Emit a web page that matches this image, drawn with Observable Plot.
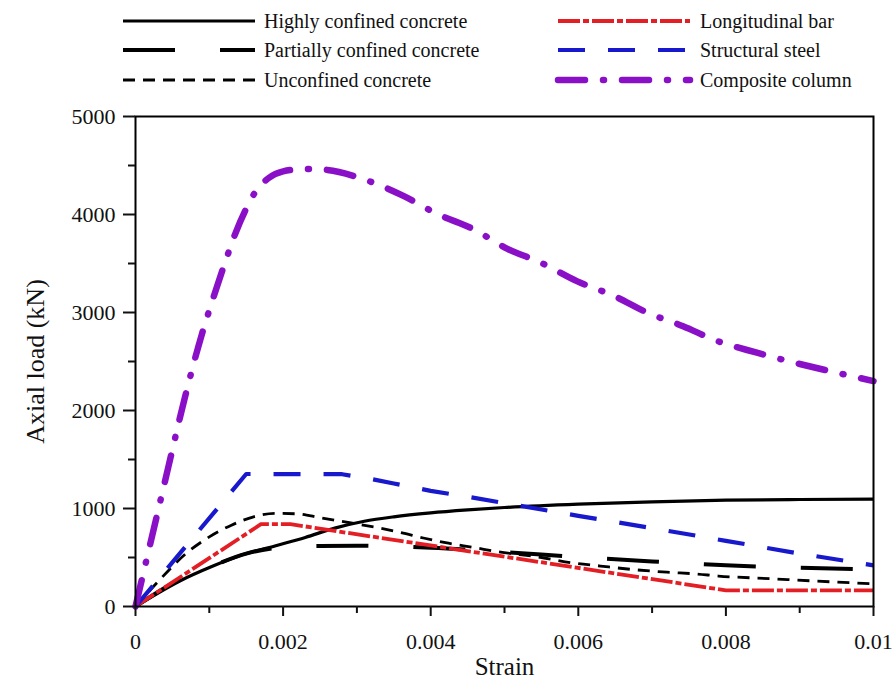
<!DOCTYPE html>
<html>
<head>
<meta charset="utf-8">
<script src="https://cdn.jsdelivr.net/npm/d3@7"></script>
<script src="https://cdn.jsdelivr.net/npm/@observablehq/plot@0.6"></script>
<style>
  html, body { margin: 0; padding: 0; background: #fff; }
  #legend svg, #chart svg { display: block; }
</style>
</head>
<body>
<div id="legend"></div>
<div id="chart"></div>
<script>
// ---------- tick labels ----------
const xTicks = [0, 0.002, 0.004, 0.006, 0.008, 0.01];
const xTickLabels = ["0", "0.002", "0.004", "0.006", "0.008", "0.01"];
const xMinorTicks = [0.001, 0.003, 0.005, 0.007, 0.009];
const yTicks = [0, 1000, 2000, 3000, 4000, 5000];
const yTickLabels = ["0", "1000", "2000", "3000", "4000", "5000"];
const yMinorTicks = [500, 1500, 2500, 3500, 4500];
const xTitle = "Strain";
const yTitle = "Axial load (kN)";

// ---------- series ----------
const seriesNames = ["Highly confined concrete", "Partially confined concrete", "Unconfined concrete",
                     "Longitudinal bar", "Structural steel", "Composite column"];

const highlyStrain = [0, 0.0003, 0.0006, 0.00105, 0.0014, 0.0019, 0.0023, 0.0027, 0.0031, 0.0035, 0.004, 0.0045, 0.005, 0.006, 0.007, 0.008, 0.009, 0.01];
const highlyLoad   = [0, 135, 260, 413, 515, 620, 705, 800, 870, 915, 955, 985, 1010, 1045, 1068, 1085, 1092, 1095];

const partialStrain = [0, 0.0005, 0.001, 0.0015, 0.002, 0.0025, 0.003, 0.0035, 0.004, 0.005, 0.006, 0.007, 0.008, 0.009, 0.01];
const partialLoad   = [0, 235, 400, 540, 605, 618, 620, 612, 600, 555, 505, 460, 420, 395, 380];

const unconfStrain = [0, 0.0003, 0.0007, 0.001, 0.0013, 0.0016, 0.0019, 0.0022, 0.0025, 0.0029, 0.0033, 0.0036, 0.0039, 0.0042, 0.0046, 0.0049, 0.0055, 0.0059, 0.0063, 0.0067, 0.0072, 0.0076, 0.0079, 0.0086, 0.0092, 0.01];
const unconfLoad   = [0, 250, 550, 710, 830, 915, 950, 945, 906, 855, 801, 753, 699, 651, 600, 560, 500, 447, 413, 380, 350, 332, 311, 284, 260, 232];

const barStrain = [0, 0.0017, 0.0021, 0.008, 0.01];
const barLoad   = [0, 840, 840, 165, 165];

const steelStrain = [0, 0.0015, 0.0028, 0.0032, 0.0035, 0.004, 0.0045, 0.005, 0.006, 0.007, 0.008, 0.009, 0.01];
const steelLoad   = [0, 1352, 1350, 1300, 1255, 1180, 1120, 1055, 925, 800, 670, 540, 420];

const compStrain = [0, 0.00015, 0.0003, 0.00045, 0.0006, 0.00075, 0.0009, 0.00105, 0.0012, 0.00135, 0.0015, 0.00165, 0.0018, 0.002, 0.0023, 0.0026, 0.00309, 0.00363, 0.00409, 0.00458, 0.00504, 0.00549, 0.00598, 0.00648, 0.00693, 0.00742, 0.00788, 0.00842, 0.00892, 0.00942, 0.01];
const compLoad   = [0, 480, 960, 1440, 1920, 2370, 2780, 3140, 3480, 3800, 4060, 4260, 4370, 4440, 4465, 4455, 4360, 4190, 4005, 3850, 3650, 3510, 3320, 3170, 3000, 2860, 2710, 2590, 2490, 2400, 2300];

// ---------- build tables ----------
const toRows = (xs, ys) => xs.map((x, i) => ({x, y: ys[i]}));
const styles = [
  {stroke: "#000000", strokeWidth: 3.2, dash: null,          curve: "monotone-x", cap: "butt"},
  {stroke: "#000000", strokeWidth: 4,   dash: "52,45",       curve: "monotone-x", cap: "butt"},
  {stroke: "#000000", strokeWidth: 2.8, dash: "12,8",        curve: "monotone-x", cap: "butt"},
  {stroke: "#e31e24", strokeWidth: 3.8, dash: "22,3,6,3",    curve: "linear",     cap: "butt"},
  {stroke: "#1818cc", strokeWidth: 4.2, dash: "27,23",       curve: "linear",     cap: "butt"},
  {stroke: "#8a10c8", strokeWidth: 6.5, dash: "27,18,1,18",  curve: "monotone-x", cap: "round"}
];
const tables = [
  toRows(highlyStrain, highlyLoad),
  toRows(partialStrain, partialLoad),
  toRows(unconfStrain, unconfLoad),
  toRows(barStrain, barLoad),
  toRows(steelStrain, steelLoad),
  toRows(compStrain, compLoad)
];

// ---------- legend ----------
const FONT = "Liberation Serif, Times New Roman, serif";
const legend = d3.create("svg").attr("width", 896).attr("height", 100);
const legendCols = [{x1: 123, x2: 255, tx: 264}, {x1: 558, x2: 690, tx: 700}];
const legendRows = [21, 50, 80];
seriesNames.forEach((name, i) => {
  const c = legendCols[Math.floor(i / 3)], r = legendRows[i % 3], s = styles[i];
  legend.append("line")
    .attr("x1", c.x1).attr("x2", c.x2).attr("y1", r).attr("y2", r)
    .attr("stroke", s.stroke).attr("stroke-width", s.strokeWidth)
    .attr("stroke-dasharray", s.dash).attr("stroke-linecap", s.cap);
  legend.append("text")
    .attr("x", c.tx).attr("y", r).attr("dy", "0.35em")
    .attr("font-family", FONT).attr("font-size", 20).attr("fill", "#111")
    .text(name);
});
document.getElementById("legend").append(legend.node());

// ---------- chart ----------
const lineMarks = tables.map((t, i) => Plot.line(t, {
  x: "x", y: "y",
  stroke: styles[i].stroke,
  strokeWidth: styles[i].strokeWidth,
  strokeDasharray: styles[i].dash,
  strokeLinecap: styles[i].cap,
  curve: styles[i].curve
}));

const chart = Plot.plot({
  width: 896,
  height: 588,
  marginTop: 16,
  marginLeft: 135,
  marginRight: 23,
  marginBottom: 82,
  style: {fontFamily: FONT, fontSize: "22px", color: "#111", background: "#fff"},
  x: {domain: [0, 0.01]},
  y: {domain: [0, 5000]},
  marks: [
    ...lineMarks,
    Plot.frame({stroke: "#000", strokeWidth: 2}),
    Plot.axisX({ticks: xTicks, tickSize: 10, tickPadding: 17, strokeWidth: 2, label: null,
                tickFormat: d => xTickLabels[xTicks.indexOf(d)]}),
    Plot.axisX({ticks: xMinorTicks, tickSize: 7, strokeWidth: 2, label: null, tickFormat: () => ""}),
    Plot.axisY({ticks: yTicks, tickSize: 12, tickPadding: 8, strokeWidth: 2, label: null,
                tickFormat: d => yTickLabels[yTicks.indexOf(d)]}),
    Plot.axisY({ticks: yMinorTicks, tickSize: 7, strokeWidth: 2, label: null, tickFormat: () => ""}),
    Plot.text([xTitle], {frameAnchor: "bottom", dy: 60, lineAnchor: "middle", textAnchor: "middle", fontSize: 25, fill: "#111"}),
    Plot.text([yTitle], {frameAnchor: "left", dx: -100, rotate: -90, lineAnchor: "middle", textAnchor: "middle", fontSize: 26, fill: "#111"})
  ]
});
document.getElementById("chart").append(chart);
</script>
</body>
</html>
